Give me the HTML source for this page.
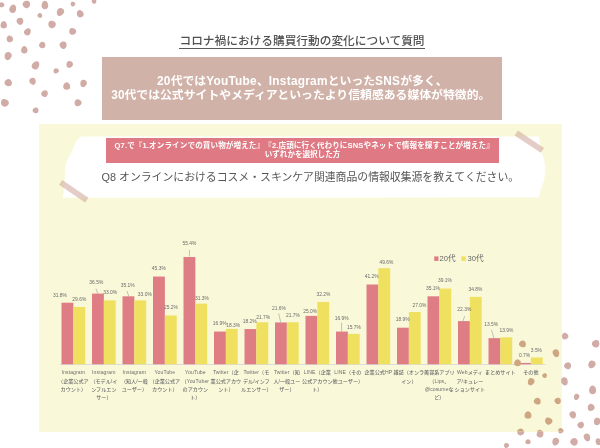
<!DOCTYPE html>
<html lang="ja"><head><meta charset="utf-8"><title>コロナ禍における購買行動の変化について質問</title>
<style>
html,body{margin:0;padding:0;background:#fff;}
body{text-spacing-trim:space-all;width:600px;height:448px;position:relative;overflow:hidden;font-family:"Liberation Sans","Noto Sans CJK JP",sans-serif;}
.abs{position:absolute;}
#panel{left:39px;top:124px;width:523px;height:307.5px;background:#f9f8d9;}
#title{left:0;top:35.25px;width:604px;display:flex;justify-content:center;font-size:11.7px;line-height:12px;font-weight:500;color:#505050;white-space:nowrap;}
#title span{display:block;height:13px;border-bottom:1px solid #5a5a5a;line-height:12px;}
#brown{left:102px;top:57px;width:400px;height:62.7px;background:#d1b2a8;}
#brown i{font-style:normal;letter-spacing:0.26px;}
#brown p{margin:0;position:absolute;left:0;width:400px;text-align:center;color:#fff;font-weight:700;font-size:11.85px;line-height:14px;white-space:nowrap;}
#pink{left:106px;top:138.2px;width:393px;height:24.5px;background:#df7a84;}
#pink p{margin:0;position:absolute;left:0px;width:393px;text-align:center;color:#fff;font-weight:700;font-size:7.55px;line-height:9px;white-space:nowrap;}
#q8{left:101.6px;top:169.3px;font-size:10.85px;line-height:16px;color:#555;white-space:nowrap;}
svg{position:absolute;left:0;top:0;}
svg text{text-spacing-trim:space-all;font-family:"Liberation Sans","Noto Sans CJK JP",sans-serif;}
.dl text{font-size:4.9px;fill:#6b6b6b;text-anchor:middle;}
.cl text{font-size:5.1px;fill:#6e6e6e;text-anchor:middle;font-weight:500;}
.cl .la{letter-spacing:0.1px;}
.lg text{font-size:7.6px;fill:#666;}
</style></head><body>
<div id="panel" class="abs"></div>
<svg id="paper" width="600" height="448" viewBox="0 0 600 448">
<path d="M81 136.6 L538.5 136.4 L539.6 136.8 C539 142 540.5 148 541.9 153.5 C543.5 158 544.9 161 544.9 165.2 C545 170 545 174 544.4 178.6 C543.8 182 543 184 541.9 186.1 C541 188 540.6 190 540.2 192 L538.5 197.5 L63 197.8 C63.6 192 64.2 186 64.7 180.2 C65 174 65.2 168 65.9 163.5 C67 160 68.8 157.5 70.1 155.1 C72 151 73.5 147 75.1 143.4 C77 140.6 79 138.5 81 136.6 Z" fill="#fff"/>
<g fill="#cfa99c" fill-opacity="0.58">
<rect x="0" y="0" width="31.6" height="5.9" transform="translate(62.3 179.9) rotate(34.2)"/>
<rect x="0" y="0" width="31.4" height="5.9" transform="translate(517.9 130.6) rotate(33.5)"/>
</g>
</svg>
<div id="title" class="abs"><span>コロナ禍における購買行動の変化について質問</span></div>
<div id="brown" class="abs"><p style="top:16.6px;left:0.3px"><i>20</i>代では<i>YouTube</i>、<i>Instagram</i>といった<i>SNS</i>が多く、</p><p style="top:31px;left:-1.2px">30代では公式サイトやメディアといったより信頼感ある媒体が特徴的。</p></div>
<div id="pink" class="abs"><p style="top:3.3px;letter-spacing:0.13px;left:1.8px">Q7.で『1.オンラインでの買い物が増えた』『2.店頭に行く代わりにSNSやネットで情報を探すことが増えた』</p><p style="top:11.5px">いずれかを選択した方</p></div>
<div id="q8" class="abs">Q8 オンラインにおけるコスメ・スキンケア関連商品の情報収集源を教えてください。</div>
<svg id="chart" width="600" height="448" viewBox="0 0 600 448">
<line x1="60" y1="364.5" x2="545.5" y2="364.5" stroke="#d6d6dc" stroke-width="0.8"/>
<rect x="61.50" y="302.70" width="11.85" height="61.60" fill="#df7d85"/>
<rect x="73.35" y="306.96" width="11.85" height="57.34" fill="#efe05f"/>
<rect x="92.00" y="293.60" width="11.85" height="70.70" fill="#df7d85"/>
<rect x="103.85" y="300.38" width="11.85" height="63.92" fill="#efe05f"/>
<rect x="122.50" y="296.31" width="11.85" height="67.99" fill="#df7d85"/>
<rect x="134.35" y="300.38" width="11.85" height="63.92" fill="#efe05f"/>
<rect x="153.00" y="276.55" width="11.85" height="87.75" fill="#df7d85"/>
<rect x="164.85" y="315.49" width="11.85" height="48.81" fill="#efe05f"/>
<rect x="183.50" y="256.99" width="11.85" height="107.31" fill="#df7d85"/>
<rect x="195.35" y="303.67" width="11.85" height="60.63" fill="#efe05f"/>
<rect x="214.00" y="331.56" width="11.85" height="32.74" fill="#df7d85"/>
<rect x="225.85" y="328.85" width="11.85" height="35.45" fill="#efe05f"/>
<rect x="244.50" y="329.05" width="11.85" height="35.25" fill="#df7d85"/>
<rect x="256.35" y="322.27" width="11.85" height="42.03" fill="#efe05f"/>
<rect x="275.00" y="322.46" width="11.85" height="41.84" fill="#df7d85"/>
<rect x="286.85" y="322.27" width="11.85" height="42.03" fill="#efe05f"/>
<rect x="305.50" y="315.88" width="11.85" height="48.43" fill="#df7d85"/>
<rect x="317.35" y="301.93" width="11.85" height="62.37" fill="#efe05f"/>
<rect x="336.00" y="331.56" width="11.85" height="32.74" fill="#df7d85"/>
<rect x="347.85" y="333.89" width="11.85" height="30.41" fill="#efe05f"/>
<rect x="366.50" y="284.50" width="11.85" height="79.80" fill="#df7d85"/>
<rect x="378.35" y="268.22" width="11.85" height="96.08" fill="#efe05f"/>
<rect x="397.00" y="327.69" width="11.85" height="36.61" fill="#df7d85"/>
<rect x="408.85" y="312.00" width="11.85" height="52.30" fill="#efe05f"/>
<rect x="427.50" y="296.31" width="11.85" height="67.99" fill="#df7d85"/>
<rect x="439.35" y="288.56" width="11.85" height="75.74" fill="#efe05f"/>
<rect x="458.00" y="321.10" width="11.85" height="43.20" fill="#df7d85"/>
<rect x="469.85" y="296.89" width="11.85" height="67.41" fill="#efe05f"/>
<rect x="488.50" y="338.15" width="11.85" height="26.15" fill="#df7d85"/>
<rect x="500.35" y="337.38" width="11.85" height="26.92" fill="#efe05f"/>
<rect x="519.00" y="362.94" width="11.85" height="1.36" fill="#df7d85"/>
<rect x="530.85" y="357.52" width="11.85" height="6.78" fill="#efe05f"/>
<line x1="96" y1="288.6" x2="97.7" y2="293.6" stroke="#8a8a8a" stroke-width="0.5"/>
<line x1="127" y1="291" x2="128.7" y2="296" stroke="#8a8a8a" stroke-width="0.5"/>
<line x1="189.4" y1="250" x2="189.4" y2="256.4" stroke="#8a8a8a" stroke-width="0.5"/>
<line x1="278.7" y1="313.5" x2="280.7" y2="322.3" stroke="#8a8a8a" stroke-width="0.5"/>
<line x1="341.6" y1="322.8" x2="341.6" y2="331.4" stroke="#8a8a8a" stroke-width="0.5"/>
<line x1="464.6" y1="316.2" x2="463" y2="321.2" stroke="#8a8a8a" stroke-width="0.5"/>
<line x1="491.4" y1="329.8" x2="494" y2="338.2" stroke="#8a8a8a" stroke-width="0.5"/>
<g class="dl">
<text x="59.9" y="296.55">31.8%</text>
<text x="79.3" y="300.75">29.6%</text>
<text x="96.3" y="283.95">36.5%</text>
<text x="110.2" y="294.05">33.0%</text>
<text x="127.75" y="286.95">35.1%</text>
<text x="144.8" y="295.75">33.0%</text>
<text x="158.8" y="270.25">45.3%</text>
<text x="171" y="309.15">25.2%</text>
<text x="189.4" y="245.45">55.4%</text>
<text x="202" y="299.55">31.3%</text>
<text x="219.75" y="325.25">16.9%</text>
<text x="233.25" y="326.95">18.3%</text>
<text x="249.75" y="322.75">18.2%</text>
<text x="263.25" y="318.55">21.7%</text>
<text x="278.9" y="310.15">21.6%</text>
<text x="292.9" y="316.85">21.7%</text>
<text x="310.1" y="312.85">25.0%</text>
<text x="323.5" y="296.15">32.2%</text>
<text x="341.6" y="319.85">16.9%</text>
<text x="353.85" y="329.15">15.7%</text>
<text x="371.6" y="278.15">41.2%</text>
<text x="386.4" y="264.35">49.6%</text>
<text x="402.7" y="321.25">18.9%</text>
<text x="419.4" y="306.55">27.0%</text>
<text x="433" y="290.25">35.1%</text>
<text x="445" y="282.25">39.1%</text>
<text x="464.3" y="310.75">22.3%</text>
<text x="475.5" y="291.15">34.8%</text>
<text x="491.2" y="326.05">13.5%</text>
<text x="506.45" y="331.55">13.9%</text>
<text x="524.5" y="356.65">0.7%</text>
<text x="536.4" y="351.65">3.5%</text>
</g>
<g class="cl">
<text x="73.35" y="374.40"><tspan class="la">Instagram</tspan></text>
<text x="73.35" y="382.70">（企業公式ア</text>
<text x="73.35" y="391.00">カウント）</text>
<text x="103.85" y="374.40"><tspan class="la">Instagram</tspan></text>
<text x="103.85" y="382.70">（モデル/イ</text>
<text x="103.85" y="391.00">ンフルエン</text>
<text x="103.85" y="399.30">サー）</text>
<text x="134.35" y="374.40"><tspan class="la">Instagram</tspan></text>
<text x="134.35" y="382.70">（知人/一般</text>
<text x="134.35" y="391.00">ユーザー）</text>
<text x="164.85" y="374.40"><tspan class="la">YouTube</tspan></text>
<text x="164.85" y="382.70">（企業公式ア</text>
<text x="164.85" y="391.00">カウント）</text>
<text x="195.35" y="374.40"><tspan class="la">YouTube</tspan></text>
<text x="195.35" y="382.70">（<tspan class="la">YouTuber</tspan></text>
<text x="195.35" y="391.00">のアカウン</text>
<text x="195.35" y="399.30">ト）</text>
<text x="225.85" y="374.40"><tspan class="la">Twitter</tspan>（企</text>
<text x="225.85" y="382.70">業公式アカウ</text>
<text x="225.85" y="391.00">ント）</text>
<text x="256.35" y="374.40"><tspan class="la">Twitter</tspan>（モ</text>
<text x="256.35" y="382.70">デル/インフ</text>
<text x="256.35" y="391.00">ルエンサー）</text>
<text x="286.85" y="374.40"><tspan class="la">Twitter</tspan>（知</text>
<text x="286.85" y="382.70">人/一般ユー</text>
<text x="286.85" y="391.00">ザー）</text>
<text x="317.35" y="374.40"><tspan class="la">LINE</tspan>（企業</text>
<text x="317.35" y="382.70">公式アカウン</text>
<text x="317.35" y="391.00">ト）</text>
<text x="347.85" y="374.40"><tspan class="la">LINE</tspan>（その</text>
<text x="347.85" y="382.70">他ユーザー）</text>
<text x="378.35" y="374.40">企業公式<tspan class="la">HP</tspan></text>
<text x="408.85" y="374.40">雑誌（オンラ</text>
<text x="408.85" y="382.70">イン）</text>
<text x="439.35" y="374.40">美容系アプリ</text>
<text x="439.35" y="382.70">（<tspan class="la">Lips</tspan>、</text>
<text x="439.35" y="391.00">＠<tspan class="la">cosume</tspan>な</text>
<text x="439.35" y="399.30">ど）</text>
<text x="469.85" y="374.40"><tspan class="la">Web</tspan>メディ</text>
<text x="469.85" y="382.70">ア/キュレー</text>
<text x="469.85" y="391.00">ションサイト</text>
<text x="500.35" y="374.40">まとめサイト</text>
<text x="530.85" y="374.40">その他</text>
</g>
<rect x="434.2" y="256.4" width="4.3" height="4.5" fill="#df7d85"/>
<rect x="461.4" y="256.4" width="4.3" height="4.5" fill="#efe05f"/>
<g class="lg"><text x="439.5" y="261.3">20代</text><text x="467.6" y="261.3">30代</text></g>
</svg>
<svg id="dots" width="600" height="448" viewBox="0 0 600 448">
<defs><clipPath id="cin"><rect x="39" y="124" width="523" height="307.5"/></clipPath>
<clipPath id="cout"><path d="M0 0H600V448H0Z M39 124V431.5H562V124Z" clip-rule="evenodd"/></clipPath></defs>
<g fill="#d1aba5" clip-path="url(#cout)">
<path d="M0 -1C.62 -1 1 -.35 1 .2C1 .72 .56 1 0 1C-.56 1 -1 .72 -1 .2C-1 -.35 -.62 -1 0 -1Z" transform="translate(1.7 4.7) rotate(-25) scale(2.50 2.50)"/>
<path d="M0 -1C.62 -1 1 -.35 1 .2C1 .72 .56 1 0 1C-.56 1 -1 .72 -1 .2C-1 -.35 -.62 -1 0 -1Z" transform="translate(12.9 8.7) rotate(20) scale(3.35 4.20)"/>
<path d="M0 -1C.62 -1 1 -.35 1 .2C1 .72 .56 1 0 1C-.56 1 -1 .72 -1 .2C-1 -.35 -.62 -1 0 -1Z" transform="translate(26.5 4.5) rotate(160) scale(3.75 3.75)"/>
<path d="M0 -1C.62 -1 1 -.35 1 .2C1 .72 .56 1 0 1C-.56 1 -1 .72 -1 .2C-1 -.35 -.62 -1 0 -1Z" transform="translate(44.9 5) rotate(0) scale(3.35 4.35)"/>
<path d="M0 -1C.62 -1 1 -.35 1 .2C1 .72 .56 1 0 1C-.56 1 -1 .72 -1 .2C-1 -.35 -.62 -1 0 -1Z" transform="translate(72.9 4.2) rotate(200) scale(2.35 2.35)"/>
<path d="M0 -1C.62 -1 1 -.35 1 .2C1 .72 .56 1 0 1C-.56 1 -1 .72 -1 .2C-1 -.35 -.62 -1 0 -1Z" transform="translate(94.1 1.3) rotate(35) scale(2.35 2.35)"/>
<path d="M0 -1C.62 -1 1 -.35 1 .2C1 .72 .56 1 0 1C-.56 1 -1 .72 -1 .2C-1 -.35 -.62 -1 0 -1Z" transform="translate(60.3 12.1) rotate(-150) scale(3.50 4.20)"/>
<path d="M0 -1C.62 -1 1 -.35 1 .2C1 .72 .56 1 0 1C-.56 1 -1 .72 -1 .2C-1 -.35 -.62 -1 0 -1Z" transform="translate(80.1 13.7) rotate(-25) scale(3.35 3.75)"/>
<path d="M0 -1C.62 -1 1 -.35 1 .2C1 .72 .56 1 0 1C-.56 1 -1 .72 -1 .2C-1 -.35 -.62 -1 0 -1Z" transform="translate(39.9 15.4) rotate(20) scale(2.35 2.35)"/>
<path d="M0 -1C.62 -1 1 -.35 1 .2C1 .72 .56 1 0 1C-.56 1 -1 .72 -1 .2C-1 -.35 -.62 -1 0 -1Z" transform="translate(20.1 21.4) rotate(160) scale(3.35 3.50)"/>
<path d="M0 -1C.62 -1 1 -.35 1 .2C1 .72 .56 1 0 1C-.56 1 -1 .72 -1 .2C-1 -.35 -.62 -1 0 -1Z" transform="translate(3.7 24.8) rotate(0) scale(3.20 3.75)"/>
<path d="M0 -1C.62 -1 1 -.35 1 .2C1 .72 .56 1 0 1C-.56 1 -1 .72 -1 .2C-1 -.35 -.62 -1 0 -1Z" transform="translate(51.9 24.6) rotate(200) scale(3.75 3.75)"/>
<path d="M0 -1C.62 -1 1 -.35 1 .2C1 .72 .56 1 0 1C-.56 1 -1 .72 -1 .2C-1 -.35 -.62 -1 0 -1Z" transform="translate(27.6 31.8) rotate(35) scale(3.20 3.75)"/>
<path d="M0 -1C.62 -1 1 -.35 1 .2C1 .72 .56 1 0 1C-.56 1 -1 .72 -1 .2C-1 -.35 -.62 -1 0 -1Z" transform="translate(72.5 31.5) rotate(-150) scale(3.50 3.35)"/>
<path d="M0 -1C.62 -1 1 -.35 1 .2C1 .72 .56 1 0 1C-.56 1 -1 .72 -1 .2C-1 -.35 -.62 -1 0 -1Z" transform="translate(9.7 38.9) rotate(-25) scale(3.20 3.35)"/>
<path d="M0 -1C.62 -1 1 -.35 1 .2C1 .72 .56 1 0 1C-.56 1 -1 .72 -1 .2C-1 -.35 -.62 -1 0 -1Z" transform="translate(42.4 44.9) rotate(20) scale(3.20 3.20)"/>
<path d="M0 -1C.62 -1 1 -.35 1 .2C1 .72 .56 1 0 1C-.56 1 -1 .72 -1 .2C-1 -.35 -.62 -1 0 -1Z" transform="translate(63.3 45.2) rotate(160) scale(3.50 3.75)"/>
<path d="M0 -1C.62 -1 1 -.35 1 .2C1 .72 .56 1 0 1C-.56 1 -1 .72 -1 .2C-1 -.35 -.62 -1 0 -1Z" transform="translate(24.3 49.7) rotate(0) scale(3.20 3.75)"/>
<path d="M0 -1C.62 -1 1 -.35 1 .2C1 .72 .56 1 0 1C-.56 1 -1 .72 -1 .2C-1 -.35 -.62 -1 0 -1Z" transform="translate(8 56.1) rotate(200) scale(3.50 4.20)"/>
<path d="M0 -1C.62 -1 1 -.35 1 .2C1 .72 .56 1 0 1C-.56 1 -1 .72 -1 .2C-1 -.35 -.62 -1 0 -1Z" transform="translate(35.7 65.3) rotate(35) scale(3.50 4.35)"/>
<path d="M0 -1C.62 -1 1 -.35 1 .2C1 .72 .56 1 0 1C-.56 1 -1 .72 -1 .2C-1 -.35 -.62 -1 0 -1Z" transform="translate(69.5 64.5) rotate(-150) scale(3.20 3.50)"/>
<path d="M0 -1C.62 -1 1 -.35 1 .2C1 .72 .56 1 0 1C-.56 1 -1 .72 -1 .2C-1 -.35 -.62 -1 0 -1Z" transform="translate(56.1 70.8) rotate(-25) scale(2.70 2.50)"/>
<path d="M0 -1C.62 -1 1 -.35 1 .2C1 .72 .56 1 0 1C-.56 1 -1 .72 -1 .2C-1 -.35 -.62 -1 0 -1Z" transform="translate(8.4 82.6) rotate(20) scale(3.75 3.50)"/>
<path d="M0 -1C.62 -1 1 -.35 1 .2C1 .72 .56 1 0 1C-.56 1 -1 .72 -1 .2C-1 -.35 -.62 -1 0 -1Z" transform="translate(32.7 81.4) rotate(160) scale(3.20 3.50)"/>
<path d="M0 -1C.62 -1 1 -.35 1 .2C1 .72 .56 1 0 1C-.56 1 -1 .72 -1 .2C-1 -.35 -.62 -1 0 -1Z" transform="translate(66.7 86) rotate(0) scale(3.50 3.75)"/>
<path d="M0 -1C.62 -1 1 -.35 1 .2C1 .72 .56 1 0 1C-.56 1 -1 .72 -1 .2C-1 -.35 -.62 -1 0 -1Z" transform="translate(83.4 83.5) rotate(200) scale(3.20 3.75)"/>
<path d="M0 -1C.62 -1 1 -.35 1 .2C1 .72 .56 1 0 1C-.56 1 -1 .72 -1 .2C-1 -.35 -.62 -1 0 -1Z" transform="translate(44.7 93.5) rotate(35) scale(3.20 3.50)"/>
<path d="M0 -1C.62 -1 1 -.35 1 .2C1 .72 .56 1 0 1C-.56 1 -1 .72 -1 .2C-1 -.35 -.62 -1 0 -1Z" transform="translate(4.7 103) rotate(-150) scale(4.00 3.75)"/>
<path d="M0 -1C.62 -1 1 -.35 1 .2C1 .72 .56 1 0 1C-.56 1 -1 .72 -1 .2C-1 -.35 -.62 -1 0 -1Z" transform="translate(77.9 102.7) rotate(-25) scale(3.50 3.50)"/>
<path d="M0 -1C.62 -1 1 -.35 1 .2C1 .72 .56 1 0 1C-.56 1 -1 .72 -1 .2C-1 -.35 -.62 -1 0 -1Z" transform="translate(35.7 110.3) rotate(20) scale(2.95 2.95)"/>
<path d="M0 -1C.62 -1 1 -.35 1 .2C1 .72 .56 1 0 1C-.56 1 -1 .72 -1 .2C-1 -.35 -.62 -1 0 -1Z" transform="translate(565 336) rotate(-25) scale(3.20 3.35)"/>
<path d="M0 -1C.62 -1 1 -.35 1 .2C1 .72 .56 1 0 1C-.56 1 -1 .72 -1 .2C-1 -.35 -.62 -1 0 -1Z" transform="translate(522.6 343.9) rotate(20) scale(3.50 3.35)"/>
<path d="M0 -1C.62 -1 1 -.35 1 .2C1 .72 .56 1 0 1C-.56 1 -1 .72 -1 .2C-1 -.35 -.62 -1 0 -1Z" transform="translate(595.8 343.9) rotate(160) scale(3.75 3.75)"/>
<path d="M0 -1C.62 -1 1 -.35 1 .2C1 .72 .56 1 0 1C-.56 1 -1 .72 -1 .2C-1 -.35 -.62 -1 0 -1Z" transform="translate(556.1 353.3) rotate(0) scale(3.20 4.00)"/>
<path d="M0 -1C.62 -1 1 -.35 1 .2C1 .72 .56 1 0 1C-.56 1 -1 .72 -1 .2C-1 -.35 -.62 -1 0 -1Z" transform="translate(517.6 362.8) rotate(200) scale(3.50 3.50)"/>
<path d="M0 -1C.62 -1 1 -.35 1 .2C1 .72 .56 1 0 1C-.56 1 -1 .72 -1 .2C-1 -.35 -.62 -1 0 -1Z" transform="translate(567.8 365.7) rotate(35) scale(3.50 3.50)"/>
<path d="M0 -1C.62 -1 1 -.35 1 .2C1 .72 .56 1 0 1C-.56 1 -1 .72 -1 .2C-1 -.35 -.62 -1 0 -1Z" transform="translate(591.8 364.5) rotate(-150) scale(3.50 4.00)"/>
<path d="M0 -1C.62 -1 1 -.35 1 .2C1 .72 .56 1 0 1C-.56 1 -1 .72 -1 .2C-1 -.35 -.62 -1 0 -1Z" transform="translate(544.7 375.5) rotate(-25) scale(2.35 2.35)"/>
<path d="M0 -1C.62 -1 1 -.35 1 .2C1 .72 .56 1 0 1C-.56 1 -1 .72 -1 .2C-1 -.35 -.62 -1 0 -1Z" transform="translate(531 381.7) rotate(20) scale(3.20 3.75)"/>
<path d="M0 -1C.62 -1 1 -.35 1 .2C1 .72 .56 1 0 1C-.56 1 -1 .72 -1 .2C-1 -.35 -.62 -1 0 -1Z" transform="translate(564.5 381.4) rotate(160) scale(3.35 4.20)"/>
<path d="M0 -1C.62 -1 1 -.35 1 .2C1 .72 .56 1 0 1C-.56 1 -1 .72 -1 .2C-1 -.35 -.62 -1 0 -1Z" transform="translate(592.6 389.8) rotate(0) scale(3.50 4.35)"/>
<path d="M0 -1C.62 -1 1 -.35 1 .2C1 .72 .56 1 0 1C-.56 1 -1 .72 -1 .2C-1 -.35 -.62 -1 0 -1Z" transform="translate(576.5 397) rotate(200) scale(2.70 3.20)"/>
<path d="M0 -1C.62 -1 1 -.35 1 .2C1 .72 .56 1 0 1C-.56 1 -1 .72 -1 .2C-1 -.35 -.62 -1 0 -1Z" transform="translate(537.4 401.1) rotate(35) scale(3.50 3.35)"/>
<path d="M0 -1C.62 -1 1 -.35 1 .2C1 .72 .56 1 0 1C-.56 1 -1 .72 -1 .2C-1 -.35 -.62 -1 0 -1Z" transform="translate(557.8 401.1) rotate(-150) scale(3.20 3.20)"/>
<path d="M0 -1C.62 -1 1 -.35 1 .2C1 .72 .56 1 0 1C-.56 1 -1 .72 -1 .2C-1 -.35 -.62 -1 0 -1Z" transform="translate(591 407.3) rotate(-25) scale(3.50 3.50)"/>
<path d="M0 -1C.62 -1 1 -.35 1 .2C1 .72 .56 1 0 1C-.56 1 -1 .72 -1 .2C-1 -.35 -.62 -1 0 -1Z" transform="translate(528 414.9) rotate(20) scale(3.50 3.75)"/>
<path d="M0 -1C.62 -1 1 -.35 1 .2C1 .72 .56 1 0 1C-.56 1 -1 .72 -1 .2C-1 -.35 -.62 -1 0 -1Z" transform="translate(572.9 414.9) rotate(160) scale(3.20 3.75)"/>
<path d="M0 -1C.62 -1 1 -.35 1 .2C1 .72 .56 1 0 1C-.56 1 -1 .72 -1 .2C-1 -.35 -.62 -1 0 -1Z" transform="translate(548.6 421.2) rotate(0) scale(3.75 3.50)"/>
<path d="M0 -1C.62 -1 1 -.35 1 .2C1 .72 .56 1 0 1C-.56 1 -1 .72 -1 .2C-1 -.35 -.62 -1 0 -1Z" transform="translate(597.2 421.6) rotate(200) scale(3.35 3.75)"/>
<path d="M0 -1C.62 -1 1 -.35 1 .2C1 .72 .56 1 0 1C-.56 1 -1 .72 -1 .2C-1 -.35 -.62 -1 0 -1Z" transform="translate(580.9 424.9) rotate(35) scale(3.20 3.35)"/>
<path d="M0 -1C.62 -1 1 -.35 1 .2C1 .72 .56 1 0 1C-.56 1 -1 .72 -1 .2C-1 -.35 -.62 -1 0 -1Z" transform="translate(520.6 432) rotate(-150) scale(3.50 3.50)"/>
<path d="M0 -1C.62 -1 1 -.35 1 .2C1 .72 .56 1 0 1C-.56 1 -1 .72 -1 .2C-1 -.35 -.62 -1 0 -1Z" transform="translate(560.8 430.8) rotate(-25) scale(2.70 2.50)"/>
<path d="M0 -1C.62 -1 1 -.35 1 .2C1 .72 .56 1 0 1C-.56 1 -1 .72 -1 .2C-1 -.35 -.62 -1 0 -1Z" transform="translate(540.2 433.6) rotate(20) scale(3.35 4.00)"/>
<path d="M0 -1C.62 -1 1 -.35 1 .2C1 .72 .56 1 0 1C-.56 1 -1 .72 -1 .2C-1 -.35 -.62 -1 0 -1Z" transform="translate(587.1 437.5) rotate(160) scale(3.20 4.00)"/>
<path d="M0 -1C.62 -1 1 -.35 1 .2C1 .72 .56 1 0 1C-.56 1 -1 .72 -1 .2C-1 -.35 -.62 -1 0 -1Z" transform="translate(528 441.7) rotate(0) scale(2.70 2.50)"/>
<path d="M0 -1C.62 -1 1 -.35 1 .2C1 .72 .56 1 0 1C-.56 1 -1 .72 -1 .2C-1 -.35 -.62 -1 0 -1Z" transform="translate(555.6 441.7) rotate(200) scale(3.35 4.00)"/>
<path d="M0 -1C.62 -1 1 -.35 1 .2C1 .72 .56 1 0 1C-.56 1 -1 .72 -1 .2C-1 -.35 -.62 -1 0 -1Z" transform="translate(574.2 441.7) rotate(35) scale(3.75 3.75)"/>
<path d="M0 -1C.62 -1 1 -.35 1 .2C1 .72 .56 1 0 1C-.56 1 -1 .72 -1 .2C-1 -.35 -.62 -1 0 -1Z" transform="translate(506.4 445.5) rotate(-150) scale(2.50 2.50)"/>
<path d="M0 -1C.62 -1 1 -.35 1 .2C1 .72 .56 1 0 1C-.56 1 -1 .72 -1 .2C-1 -.35 -.62 -1 0 -1Z" transform="translate(598.5 441.7) rotate(-25) scale(3.00 3.50)"/>
</g>
<g fill="#cfa682" clip-path="url(#cin)">
<path d="M0 -1C.62 -1 1 -.35 1 .2C1 .72 .56 1 0 1C-.56 1 -1 .72 -1 .2C-1 -.35 -.62 -1 0 -1Z" transform="translate(565 336) rotate(-25) scale(3.20 3.35)"/>
<path d="M0 -1C.62 -1 1 -.35 1 .2C1 .72 .56 1 0 1C-.56 1 -1 .72 -1 .2C-1 -.35 -.62 -1 0 -1Z" transform="translate(522.6 343.9) rotate(20) scale(3.50 3.35)"/>
<path d="M0 -1C.62 -1 1 -.35 1 .2C1 .72 .56 1 0 1C-.56 1 -1 .72 -1 .2C-1 -.35 -.62 -1 0 -1Z" transform="translate(556.1 353.3) rotate(160) scale(3.20 4.00)"/>
<path d="M0 -1C.62 -1 1 -.35 1 .2C1 .72 .56 1 0 1C-.56 1 -1 .72 -1 .2C-1 -.35 -.62 -1 0 -1Z" transform="translate(517.6 362.8) rotate(0) scale(3.50 3.50)"/>
<path d="M0 -1C.62 -1 1 -.35 1 .2C1 .72 .56 1 0 1C-.56 1 -1 .72 -1 .2C-1 -.35 -.62 -1 0 -1Z" transform="translate(567.8 365.7) rotate(200) scale(3.50 3.50)"/>
<path d="M0 -1C.62 -1 1 -.35 1 .2C1 .72 .56 1 0 1C-.56 1 -1 .72 -1 .2C-1 -.35 -.62 -1 0 -1Z" transform="translate(544.7 375.5) rotate(35) scale(2.35 2.35)"/>
<path d="M0 -1C.62 -1 1 -.35 1 .2C1 .72 .56 1 0 1C-.56 1 -1 .72 -1 .2C-1 -.35 -.62 -1 0 -1Z" transform="translate(531 381.7) rotate(-150) scale(3.20 3.75)"/>
<path d="M0 -1C.62 -1 1 -.35 1 .2C1 .72 .56 1 0 1C-.56 1 -1 .72 -1 .2C-1 -.35 -.62 -1 0 -1Z" transform="translate(564.5 381.4) rotate(-25) scale(3.35 4.20)"/>
<path d="M0 -1C.62 -1 1 -.35 1 .2C1 .72 .56 1 0 1C-.56 1 -1 .72 -1 .2C-1 -.35 -.62 -1 0 -1Z" transform="translate(537.4 401.1) rotate(20) scale(3.50 3.35)"/>
<path d="M0 -1C.62 -1 1 -.35 1 .2C1 .72 .56 1 0 1C-.56 1 -1 .72 -1 .2C-1 -.35 -.62 -1 0 -1Z" transform="translate(557.8 401.1) rotate(160) scale(3.20 3.20)"/>
<path d="M0 -1C.62 -1 1 -.35 1 .2C1 .72 .56 1 0 1C-.56 1 -1 .72 -1 .2C-1 -.35 -.62 -1 0 -1Z" transform="translate(528 414.9) rotate(0) scale(3.50 3.75)"/>
<path d="M0 -1C.62 -1 1 -.35 1 .2C1 .72 .56 1 0 1C-.56 1 -1 .72 -1 .2C-1 -.35 -.62 -1 0 -1Z" transform="translate(548.6 421.2) rotate(200) scale(3.75 3.50)"/>
<path d="M0 -1C.62 -1 1 -.35 1 .2C1 .72 .56 1 0 1C-.56 1 -1 .72 -1 .2C-1 -.35 -.62 -1 0 -1Z" transform="translate(520.6 432) rotate(35) scale(3.50 3.50)"/>
<path d="M0 -1C.62 -1 1 -.35 1 .2C1 .72 .56 1 0 1C-.56 1 -1 .72 -1 .2C-1 -.35 -.62 -1 0 -1Z" transform="translate(560.8 430.8) rotate(-150) scale(2.70 2.50)"/>
<path d="M0 -1C.62 -1 1 -.35 1 .2C1 .72 .56 1 0 1C-.56 1 -1 .72 -1 .2C-1 -.35 -.62 -1 0 -1Z" transform="translate(540.2 433.6) rotate(-25) scale(3.35 4.00)"/>
</g></svg>
</body></html>
